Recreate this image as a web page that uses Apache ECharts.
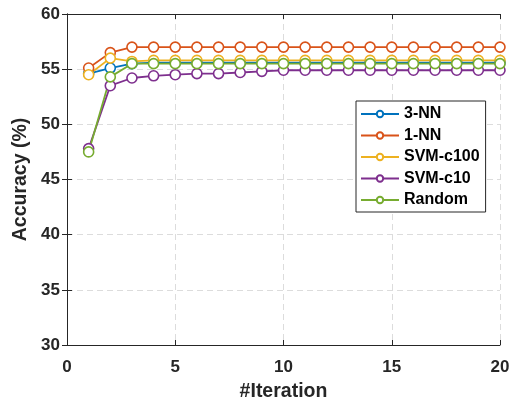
<!DOCTYPE html>
<html>
<head>
<meta charset="utf-8">
<script src="https://cdn.jsdelivr.net/npm/echarts@6/dist/echarts.min.js"></script>
<style>
  html, body { margin: 0; padding: 0; background: #fff; }
  #chart { width: 511px; height: 403px; }
</style>
</head>
<body>
<div id="chart"></div>
<script>
// data
const iterations = [1, 2, 3, 4, 5, 6, 7, 8, 9, 10, 11, 12, 13, 14, 15, 16, 17, 18, 19, 20];
const nn3 = [54.6, 55.1, 55.5, 55.6, 55.6, 55.6, 55.6, 55.6, 55.6, 55.6, 55.6, 55.6, 55.6, 55.6, 55.6, 55.6, 55.6, 55.6, 55.6, 55.6];
const nn1 = [55.1, 56.5, 57.0, 57.0, 57.0, 57.0, 57.0, 57.0, 57.0, 57.0, 57.0, 57.0, 57.0, 57.0, 57.0, 57.0, 57.0, 57.0, 57.0, 57.0];
const svmC100 = [54.5, 56.0, 55.7, 55.8, 55.8, 55.8, 55.8, 55.8, 55.8, 55.8, 55.8, 55.8, 55.8, 55.8, 55.8, 55.8, 55.8, 55.8, 55.8, 55.8];
const svmC10 = [47.8, 53.5, 54.2, 54.4, 54.5, 54.6, 54.6, 54.7, 54.8, 54.9, 54.9, 54.9, 54.9, 54.9, 54.9, 54.9, 54.9, 54.9, 54.9, 54.9];
const randomSel = [47.5, 54.3, 55.5, 55.5, 55.5, 55.5, 55.5, 55.5, 55.5, 55.5, 55.5, 55.5, 55.5, 55.5, 55.5, 55.5, 55.5, 55.5, 55.5, 55.5];

const seriesNames = ["3-NN", "1-NN", "SVM-c100", "SVM-c10", "Random"];
const seriesData = [nn3, nn1, svmC100, svmC10, randomSel];
const colors = ["#0072BD", "#D95319", "#EDB120", "#7E2F8E", "#77AC30"];

const font = "Liberation Sans, Arial, Helvetica, sans-serif";
const axisColor = "#262626";

const pairs = arr => arr.map((v, i) => [iterations[i], v]);

const hiddenAxis = {
  axisLine: { show: true, lineStyle: { color: axisColor, width: 1 } },
  axisTick: { show: true, inside: true, length: 5, lineStyle: { color: axisColor } },
  axisLabel: { show: false },
  splitLine: { show: false }
};

const myChart = echarts.init(document.getElementById("chart"));
const option = {
  backgroundColor: "#fff",
  animation: false,
  grid: { left: 67, right: 11, top: 14, bottom: 58, containLabel: false, outerBoundsMode: "none" },
  legend: {
    data: seriesNames,
    orient: "vertical",
    left: 356,
    top: 101,
    padding: [5, 6, 4, 4],
    itemGap: 5.5,
    itemWidth: 38,
    itemHeight: 8,
    borderColor: "#262626",
    borderWidth: 1,
    backgroundColor: "#fff",
    textStyle: { fontFamily: font, fontWeight: "bold", fontSize: 16, color: "#000" }
  },
  xAxis: [
    {
      type: "value",
      min: 0,
      max: 20,
      interval: 5,
      name: "#Iteration",
      nameLocation: "middle",
      nameGap: 37,
      nameTextStyle: { fontFamily: font, fontWeight: "bold", fontSize: 19.5, color: axisColor },
      axisLine: { show: true, lineStyle: { color: axisColor, width: 1 } },
      axisTick: { show: true, inside: true, length: 5, lineStyle: { color: axisColor } },
      axisLabel: { fontFamily: font, fontWeight: "bold", fontSize: 17, color: axisColor, margin: 14 },
      splitLine: { show: true, lineStyle: { type: [6, 4], color: "#dcdcdc", width: 1 } }
    },
    Object.assign({ type: "value", position: "top", min: 0, max: 20, interval: 5 }, hiddenAxis)
  ],
  yAxis: [
    {
      type: "value",
      min: 30,
      max: 60,
      interval: 5,
      name: "Accuracy (%)",
      nameLocation: "middle",
      nameGap: 23,
      nameTextStyle: { fontFamily: font, fontWeight: "bold", fontSize: 19.5, color: axisColor },
      axisLine: { show: true, lineStyle: { color: axisColor, width: 1 } },
      axisTick: { show: true, inside: true, length: 5, lineStyle: { color: axisColor } },
      axisLabel: { fontFamily: font, fontWeight: "bold", fontSize: 17, color: axisColor, margin: 7 },
      splitLine: { show: true, lineStyle: { type: [6, 4], color: "#dcdcdc", width: 1 } }
    },
    Object.assign({ type: "value", position: "right", min: 30, max: 60, interval: 5 }, hiddenAxis)
  ],
  series: seriesNames.map((name, i) => ({
    name: name,
    type: "line",
    data: pairs(seriesData[i]),
    symbol: "circle",
    symbolSize: 10,
    showSymbol: true,
    lineStyle: { color: colors[i], width: 1.8 },
    itemStyle: { color: "#fff", borderColor: colors[i], borderWidth: 1.6 },
    emphasis: { disabled: true }
  }))
};
myChart.setOption(option);
</script>
</body>
</html>
